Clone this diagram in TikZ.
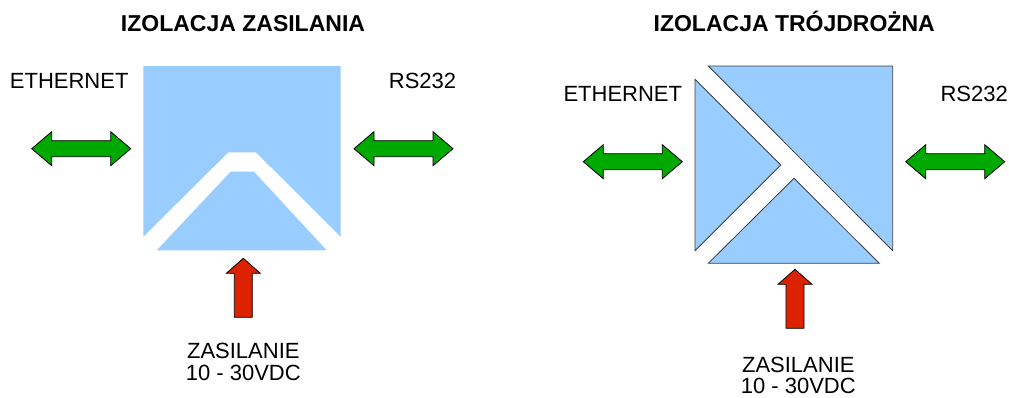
\documentclass[tikz,border=0pt]{standalone}
\usepackage{fontspec}
\setmainfont{Liberation Sans}
\definecolor{paleblue}{RGB}{153,204,255}
\definecolor{arrowgreen}{RGB}{0,169,0}
\definecolor{arrowred}{RGB}{221,34,0}

\begin{document}
\begin{tikzpicture}[x=1pt,y=-1pt,
  txt/.style={inner sep=0pt, font=\fontsize{22}{21.5}\selectfont},
  title/.style={inner sep=0pt, anchor=base, font=\fontsize{23}{23}\selectfont\bfseries},
  part/.style={fill=paleblue},
  partline/.style={fill=paleblue, draw=black!75, line width=0.8pt},
  greenarrow/.style={fill=arrowgreen, draw=black, line width=0.8pt},
  redarrow/.style={fill=arrowred, draw=black, line width=0.8pt}]
\useasboundingbox (0,0) rectangle (1009,397);

% titles
\node (titleA) [title] at (243,31.7) {IZOLACJA ZASILANIA};
\node (titleB) [title] at (794.2,31.7) {IZOLACJA TRÓJDROŻNA};

% two-way isolation
\fill [part] (143.3,66) -- (340.7,66) -- (340.7,236.7) -- (256,152.3)
  -- (228.3,152.3) -- (143.3,236.7) -- cycle;
\fill [part] (156.7,250.3) -- (326.7,250.3) -- (254,171.7) -- (230.7,171.7) -- cycle;

% three-way isolation
\draw [partline] (708.3,66) -- (892.7,66) -- (892.7,250.7) -- cycle;
\draw [partline] (695,79.3) -- (780.7,165) -- (695,250.7) -- cycle;
\draw [partline] (708.3,263.3) -- (879.3,263.3) -- (794,178.3) -- cycle;

% data ports
\foreach \x/\y in {31.7/148.7, 354/148.7, 583.3/161.7, 905.7/161.7}
  \draw [greenarrow, shift={(\x,\y)}] (0,0) -- (20,-17) -- (20,-8) -- (79,-8)
    -- (79,-17) -- (99,0) -- (79,17) -- (79,8) -- (20,8) -- (20,17) -- cycle;

% power input
\foreach \x/\y in {243.3/258.3, 795/269.3}
  \draw [redarrow, shift={(\x,\y)}] (0,0) -- (17,15) -- (9,15) -- (9,59)
    -- (-9,59) -- (-9,15) -- (-17,15) -- cycle;

% labels
\node (ethA) [txt, anchor=base] at (69.2,88.3) {ETHERNET};
\node (rsA) [txt, anchor=base] at (422.5,88.3) {RS232};
\node (ethB) [txt, anchor=base] at (622.8,101.7) {ETHERNET};
\node (rsB) [txt, anchor=base] at (974.2,101.7) {RS232};
\node (powerA) [txt, anchor=north, align=center] at (243.3,343.3) {ZASILANIE\\10 - 30VDC};
\node (powerB) [txt, anchor=north, align=center] at (798.3,356.7) {ZASILANIE\\10 - 30VDC};
\end{tikzpicture}
\end{document}
